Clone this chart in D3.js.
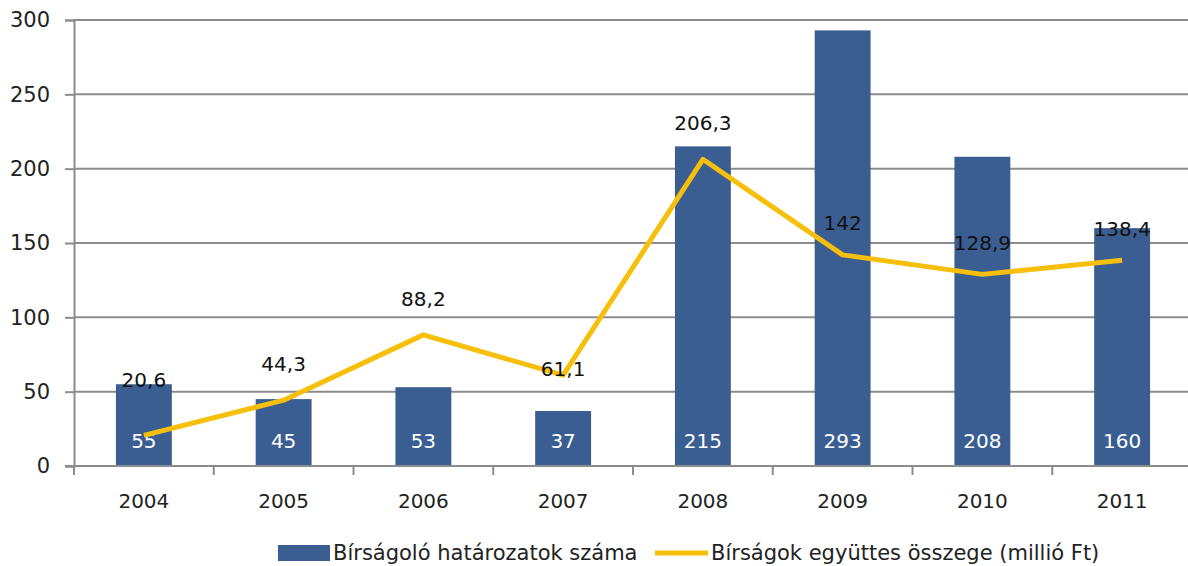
<!DOCTYPE html>
<html>
<head>
<meta charset="utf-8">
<script src="https://cdn.jsdelivr.net/npm/d3@7"></script>
<style>
  body { margin: 0; background: #fff; }
  text { font-family: "DejaVu Sans", sans-serif; }
</style>
</head>
<body>
<svg id="chart" width="1188" height="566"></svg>
<script>
// data
var years = ["2004", "2005", "2006", "2007", "2008", "2009", "2010", "2011"];
var decisions = [55, 45, 53, 37, 215, 293, 208, 160];          // Bírságoló határozatok száma
var fines = [20.6, 44.3, 88.2, 61.1, 206.3, 142, 128.9, 138.4]; // Bírságok együttes összege (millió Ft)
var yTicks = [0, 50, 100, 150, 200, 250, 300];

var barColor = "#3a5e92", lineColor = "#f5bf0a", gridColor = "#8c8c8c";

var svg = d3.select("#chart");
var fmt = function (v) { return String(v).replace(".", ","); };

var x = d3.scaleBand()
          .domain(years)
          .range([74, 1192])
          .paddingInner(0.6)
          .paddingOuter(0.3);

var y = d3.scaleLinear()
          .domain([0, 300])
          .range([466, 20]);

// gridlines
svg.append("g")
   .selectAll("line")
   .data(yTicks.slice(1))
   .enter().append("line")
   .attr("x1", 74).attr("x2", 1188)
   .attr("y1", function (d) { return y(d); })
   .attr("y2", function (d) { return y(d); })
   .attr("stroke", gridColor)
   .attr("stroke-width", 2);

// y axis
var yAxis = svg.append("g")
   .attr("transform", "translate(74,0)")
   .call(d3.axisLeft(y).tickValues(yTicks).tickSize(9).tickPadding(15));
yAxis.select(".domain").attr("stroke", gridColor).attr("stroke-width", 2);
yAxis.selectAll(".tick line").attr("stroke", gridColor).attr("stroke-width", 2);
yAxis.selectAll("text").attr("font-size", 21).attr("fill", "#222")
     .attr("font-family", "DejaVu Sans");

// bars
svg.append("g")
   .selectAll("rect")
   .data(decisions)
   .enter().append("rect")
   .attr("x", function (d, i) { return x(years[i]); })
   .attr("y", function (d) { return y(d); })
   .attr("width", x.bandwidth())
   .attr("height", function (d) { return y(0) - y(d); })
   .attr("fill", barColor);

// x axis (ticks at category boundaries)
var step = x.step();
var xa = svg.append("g").attr("transform", "translate(0," + y(0) + ")");
xa.append("line").attr("x1", 65).attr("x2", 1188)
  .attr("stroke", gridColor).attr("stroke-width", 2);
xa.selectAll(".bt")
  .data(d3.range(years.length))
  .enter().append("line")
  .attr("x1", function (i) { return x(years[i]) + x.bandwidth() / 2 - step / 2; })
  .attr("x2", function (i) { return x(years[i]) + x.bandwidth() / 2 - step / 2; })
  .attr("y1", 0).attr("y2", 9)
  .attr("stroke", gridColor).attr("stroke-width", 2);
xa.selectAll("text")
  .data(years)
  .enter().append("text")
  .attr("x", function (d) { return x(d) + x.bandwidth() / 2; })
  .attr("y", 42)
  .attr("text-anchor", "middle")
  .attr("font-size", 20)
  .attr("fill", "#222")
  .text(function (d) { return d; });

// bar value labels
svg.append("g")
   .selectAll("text")
   .data(decisions)
   .enter().append("text")
   .attr("x", function (d, i) { return x(years[i]) + x.bandwidth() / 2; })
   .attr("y", y(0) - 18)
   .attr("text-anchor", "middle")
   .attr("font-size", 20)
   .attr("fill", "#fff")
   .text(function (d) { return d; });

// line
var cx = function (d, i) { return x(years[i]) + x.bandwidth() / 2; };
var line = d3.line()
             .x(cx)
             .y(function (d) { return y(d); });

svg.append("path")
   .datum(fines)
   .attr("d", line)
   .attr("fill", "none")
   .attr("stroke", lineColor)
   .attr("stroke-width", 5)
   .attr("stroke-linejoin", "round");

// line value labels (a couple were nudged by hand in the original)
var nudge = {0: -48, 6: -24, 7: -24, 5: -25, 3: 1};
svg.append("g")
   .selectAll("text")
   .data(fines)
   .enter().append("text")
   .attr("x", cx)
   .attr("y", function (d, i) { return y(d) + (nudge[i] !== undefined ? nudge[i] : -29); })
   .attr("text-anchor", "middle")
   .attr("font-size", 20)
   .attr("fill", "#111")
   .text(fmt);

// legend
var lg = svg.append("g").attr("transform", "translate(0,553)");
lg.append("rect").attr("x", 278).attr("y", -8).attr("width", 52).attr("height", 16)
  .attr("fill", barColor);
lg.append("text").attr("x", 333).attr("y", 7).attr("font-size", 21).attr("fill", "#222")
  .text("Bírságoló határozatok száma");
lg.append("line").attr("x1", 655).attr("x2", 708).attr("y1", 0).attr("y2", 0)
  .attr("stroke", lineColor).attr("stroke-width", 5);
lg.append("text").attr("x", 711).attr("y", 7).attr("font-size", 21).attr("fill", "#222")
  .text("Bírságok együttes összege (millió Ft)");
</script>
</body>
</html>
